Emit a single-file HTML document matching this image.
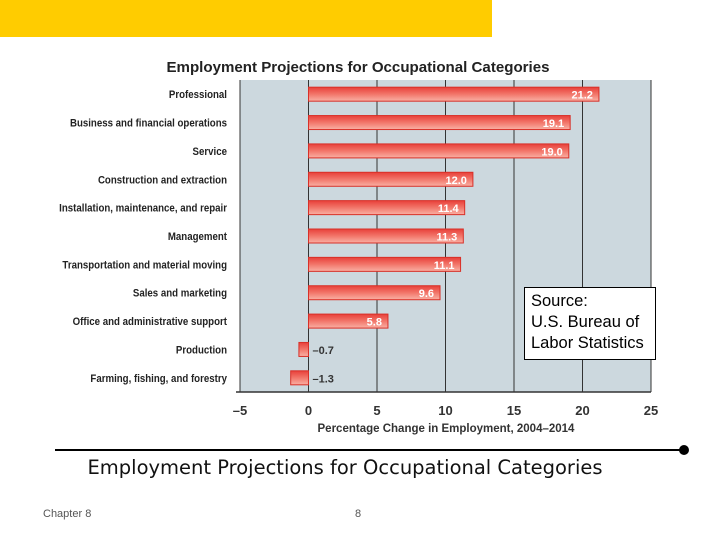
<!DOCTYPE html>
<html><head><meta charset="utf-8"><style>
body{margin:0;width:720px;height:540px;background:#fff;overflow:hidden;position:relative;font-family:"Liberation Sans",sans-serif}
</style></head><body>
<div style="position:absolute;left:0;top:0;width:492px;height:37px;background:#ffcc00"></div>
<svg id="chart" width="720" height="540" style="position:absolute;left:0;top:0">
<defs><linearGradient id="g" x1="0" y1="0" x2="0" y2="1"><stop offset="0" stop-color="#e8403a"/><stop offset="0.5" stop-color="#f2766a"/><stop offset="1" stop-color="#f9b0a4"/></linearGradient></defs>
<text x="358" y="72" text-anchor="middle" font-size="15" font-weight="bold" fill="#222" textLength="383" lengthAdjust="spacingAndGlyphs">Employment Projections for Occupational Categories</text>
<g id="plot"></g>
</svg>
<div style="position:absolute;left:524px;top:287px;width:132px;height:73px;border:1px solid #000;background:#fff;font-size:16.5px;line-height:21px;padding:3px 0 0 6px;box-sizing:border-box">Source:<br>U.S. Bureau of<br>Labor Statistics</div>
<div style="position:absolute;left:55px;top:449px;width:629px;height:2px;background:#000"></div>
<div style="position:absolute;left:679px;top:445px;width:10px;height:10px;border-radius:50%;background:#000"></div>
<div style="position:absolute;left:0;width:690px;top:456px;text-align:center;color:#111;font-family:'DejaVu Sans',sans-serif;font-size:19.5px">Employment Projections for Occupational Categories</div>
<div style="position:absolute;left:43px;top:508px;font-size:11px;color:#555">Chapter 8</div>
<div style="position:absolute;left:355px;top:508px;font-size:11px;color:#555">8</div>
<script>
const categories=["Professional","Business and financial operations","Service","Construction and extraction","Installation, maintenance, and repair","Management","Transportation and material moving","Sales and marketing","Office and administrative support","Production","Farming, fishing, and forestry"];
const values=[21.2,19.1,19.0,12.0,11.4,11.3,11.1,9.6,5.8,-0.7,-1.3];
const ticks=[-5,0,5,10,15,20,25];
const ns="http://www.w3.org/2000/svg";
const plot=document.getElementById('plot');
const L=240,R=651,T=80,B=392;
const x=v=>L+(v+5)/30*(R-L);
const rowH=(B-T)/categories.length;
const y=i=>T+rowH*(i+0.5);
function mk(t,a,p){const e=document.createElementNS(ns,t);for(const k in a)e.setAttribute(k,a[k]);(p||plot).appendChild(e);return e;}
const bg=mk('rect',{x:L,y:T,width:R-L,height:B-T,fill:'#ccd8de'});


ticks.forEach(t=>{
 if(t>-5){const gl=mk('line',{x1:x(t),x2:x(t),y1:T,y2:B,stroke:'#333','stroke-width':1});
 
 }
 const tl=mk('text',{x:x(t),y:B+23,'text-anchor':'middle','font-size':13,'font-weight':'bold',fill:'#333'});
 tl.textContent=t<0?'\u2013'+(-t):t;
 
 
});
mk('line',{x1:L-4,x2:R,y1:B,y2:B,stroke:'#333','stroke-width':1.5});
mk('line',{x1:L,x2:L,y1:T,y2:B,stroke:'#333','stroke-width':1});
categories.forEach((c,i)=>{
 const g=mk('g',{transform:'translate(227,0) scale(0.88,1)'});
 const lb=mk('text',{x:0,y:y(i)+4,'text-anchor':'end','font-size':11,'font-weight':'bold',fill:'#222'},g);
 lb.textContent=c;
 
 
 const v=values[i];
 const x0=Math.min(x(0),x(v)),w=Math.abs(x(v)-x(0));
 const b=mk('rect',{x:x0,y:y(i)-7,width:w,height:14,fill:'url(#g)',stroke:'#d83028','stroke-width':1});
 
 
 const vl=mk('text',{x:v>=0?x(v)-6:x(0)+4,y:y(i)+4.5,'text-anchor':v>=0?'end':'start','font-size':11,'font-weight':'bold',fill:v>=0?'#fff':'#333'});
 vl.textContent=v<0?'\u2013'+(-v).toFixed(1):v.toFixed(1);
 
 
});
const xt=mk('text',{x:446,y:B+40,'text-anchor':'middle','font-size':11.5,'font-weight':'bold',fill:'#333'});
xt.textContent='Percentage Change in Employment, 2004\u20132014';


</script>
</body></html>
